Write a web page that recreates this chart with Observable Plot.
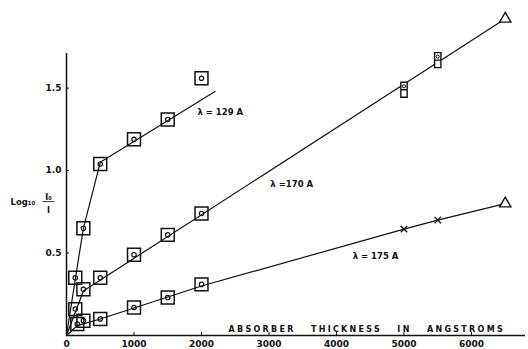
<!DOCTYPE html>
<html><head><meta charset="utf-8">
<script src="https://cdn.jsdelivr.net/npm/d3@7"></script>
<script src="https://cdn.jsdelivr.net/npm/@observablehq/plot@0.6"></script>
<style>
body{margin:0;background:#fff;}
svg text{white-space:pre;}
</style></head><body><div id="chart"></div>
<script>
// measured points (absorber thickness in Å, log10 I0/I)
const thick129 = [130, 250, 500, 1000, 1500, 2000];
const val129 = [0.35, 0.65, 1.04, 1.19, 1.31, 1.56];
const thick170 = [130, 250, 500, 1000, 1500, 2000];
const val170 = [0.16, 0.28, 0.35, 0.49, 0.61, 0.74];
const thick175 = [160, 250, 500, 1000, 1500, 2000];
const val175 = [0.07, 0.09, 0.10, 0.17, 0.23, 0.31];
const thick170Pairs = [5000, 5500];
const val170Pairs = [1.49, 1.67];
const thick175X = [5000, 5500];
const val175X = [0.645, 0.70];
const thickTri = [6500, 6500];
const valTri = [1.92, 0.80];
// drawn curves
const fit129X = [0, 130, 250, 500, 2200];
const fit129Y = [0, 0.34, 0.65, 1.05, 1.48];
const fit170X = [0, 250, 6500];
const fit170Y = [0, 0.27, 1.92];
const fit175X = [0, 160, 500, 2000, 5000, 5500, 6500];
const fit175Y = [0, 0.06, 0.10, 0.30, 0.645, 0.70, 0.80];
// ticks and labels
const xTicks = [0, 1000, 2000, 3000, 4000, 5000, 6000];
const yTicks = [0.5, 1.0, 1.5];
const curveLabels = ["λ = 129 A", "λ =170 A", "λ = 175 A"];
const curveLabelX = [1940, 3020, 4240];
const curveLabelY = [1.355, 0.92, 0.48];
const xTitle = "ABSORBER   THICKNESS   IN   ANGSTROMS";
const yTitleLog = "Log₁₀";
const yTitleNum = " I₀ ";
const yTitleDen = "I";

const pts = (xs, ys) => xs.map((x, i) => ({x, y: ys[i]}));
const squares = [...pts(thick129, val129), ...pts(thick170, val170), ...pts(thick175, val175)];
const ink = "#111";
const doubleSquare = {
  draw(ctx, size) {
    const r = Math.sqrt(size / Math.PI);
    const w = r * 0.42;
    ctx.moveTo(-w, -r); ctx.lineTo(w, -r); ctx.lineTo(w, r); ctx.lineTo(-w, r); ctx.closePath();
    ctx.moveTo(-w, 0); ctx.lineTo(w, 0);
  }
};

const plot = Plot.plot({
  width: 528, height: 349,
  marginLeft: 66, marginRight: 3, marginTop: 53, marginBottom: 14,
  x: {domain: [0, 6800]},
  y: {domain: [0, 1.71]},
  style: {fontFamily: "DejaVu Sans", fontWeight: "bold", background: "#fff", color: ink},
  marks: [
    Plot.ruleX([0], {stroke: ink, strokeWidth: 1.5}),
    Plot.ruleY([0], {stroke: ink, strokeWidth: 1.3}),
    Plot.axisX({ticks: xTicks, tickSize: -3, tickPadding: 8, label: null, fontSize: 9, fontWeight: "bold", tickFormat: d => String(d)}),
    Plot.axisY({ticks: yTicks, tickSize: -3, tickPadding: 8, label: null, fontSize: 9, fontWeight: "bold", tickFormat: d3.format(".1f")}),
    Plot.line(pts(fit129X, fit129Y), {x: "x", y: "y", stroke: ink, strokeWidth: 1.2}),
    Plot.line(pts(fit170X, fit170Y), {x: "x", y: "y", stroke: ink, strokeWidth: 1.2}),
    Plot.line(pts(fit175X, fit175Y), {x: "x", y: "y", stroke: ink, strokeWidth: 1.2}),
    Plot.dot(squares, {x: "x", y: "y", symbol: "square", r: 7.3, stroke: ink, strokeWidth: 1.5, fill: "#fff", fillOpacity: 0}),
    Plot.dot(squares, {x: "x", y: "y", r: 2.2, stroke: ink, strokeWidth: 1.2}),
    Plot.dot(pts(thick170Pairs, val170Pairs), {x: "x", y: "y", symbol: doubleSquare, r: 7.5, stroke: ink, strokeWidth: 1.4, fill: "#fff"}),
    Plot.dot(pts(thick170Pairs, val170Pairs), {x: "x", y: "y", r: 1.6, dy: -3.5, stroke: ink, strokeWidth: 1}),
    Plot.dot(pts(thick175X, val175X), {x: "x", y: "y", symbol: "times", r: 3, stroke: ink, strokeWidth: 1.4}),
    Plot.dot(pts(thickTri, valTri), {x: "x", y: "y", symbol: "triangle", r: 4.2, stroke: ink, strokeWidth: 1.4, fill: "#fff"}),
    Plot.text(curveLabels.map((t, i) => ({t, x: curveLabelX[i], y: curveLabelY[i]})), {x: "x", y: "y", text: "t", textAnchor: "start", fontSize: 8.5, fontWeight: "bold", fill: ink}),
    Plot.text([xTitle], {frameAnchor: "bottom-left", dx: 162, dy: -4, textAnchor: "start", lineAnchor: "bottom", fontSize: 8, fontWeight: "bold", fill: ink}),
    Plot.text([yTitleLog], {frameAnchor: "left", dx: -56, dy: 8, textAnchor: "start", fontSize: 8.5, fontWeight: "bold", fill: ink}),
    Plot.text([yTitleNum], {frameAnchor: "left", dx: -18, dy: 3, textAnchor: "middle", fontSize: 8, fontWeight: "bold", fill: ink}),
    Plot.text([yTitleDen], {frameAnchor: "left", dx: -18, dy: 16, textAnchor: "middle", fontSize: 8, fontWeight: "bold", fill: ink})
  ]
});
d3.select(plot).selectAll("text").filter(function() { return this.textContent === xTitle; }).attr("letter-spacing", 2.3);
d3.select(plot).selectAll("text").filter(function() { return this.textContent === yTitleNum; }).attr("text-decoration", "underline");
document.getElementById("chart").appendChild(plot);
</script>
</body></html>
